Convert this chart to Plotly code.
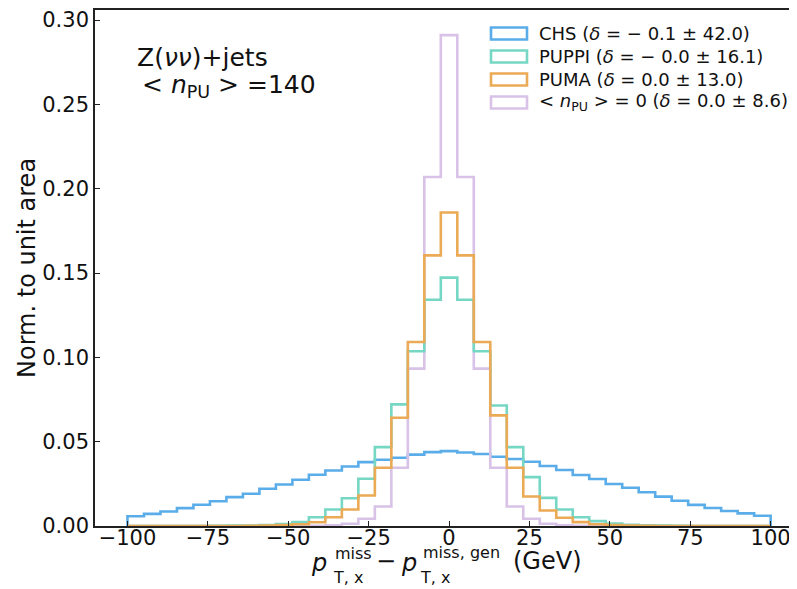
import numpy as np
import plotly.graph_objects as go

# ---------------- data ----------------
x_min, x_max, n_edges = -100, 100, 40   # 39 bins

chs = [0.0058, 0.0072, 0.0086, 0.0106, 0.0126, 0.0147, 0.0171, 0.0191, 0.0221, 0.0246,
       0.0274, 0.0304, 0.0329, 0.0353, 0.0379, 0.0393, 0.0405, 0.0423, 0.0438, 0.0444,
       0.0436, 0.0427, 0.0411, 0.0397, 0.0381, 0.0356, 0.0332, 0.0302, 0.0279, 0.0249,
       0.0227, 0.0200, 0.0174, 0.0150, 0.0125, 0.0107, 0.0089, 0.0075, 0.0061]

puppi = [0.0, 0.0, 0.0, 0.0, 0.0, 0.0001, 0.0002, 0.0003, 0.0006, 0.0012,
         0.0023, 0.0052, 0.0098, 0.0165, 0.0280, 0.0468, 0.0721, 0.1036, 0.1342, 0.1473,
         0.1342, 0.1036, 0.0715, 0.0468, 0.0290, 0.0167, 0.0098, 0.0052, 0.0029, 0.0014,
         0.0007, 0.0004, 0.0002, 0.0001, 0.0, 0.0, 0.0, 0.0, 0.0]

puma = [0.0, 0.0, 0.0, 0.0, 0.0, 0.0, 0.0, 0.0001, 0.0002, 0.0005,
        0.0010, 0.0022, 0.0052, 0.0098, 0.0181, 0.0345, 0.0642, 0.1091, 0.1605, 0.1859,
        0.1605, 0.1091, 0.0656, 0.0345, 0.0175, 0.0092, 0.0049, 0.0023, 0.0010, 0.0005,
        0.0002, 0.0001, 0.0, 0.0, 0.0, 0.0, 0.0, 0.0, 0.0]

npu0 = [0.0, 0.0, 0.0, 0.0, 0.0, 0.0, 0.0, 0.0, 0.0, 0.0,
        0.0, 0.0001, 0.0004, 0.0013, 0.0043, 0.0116, 0.0345, 0.0933, 0.2070, 0.2911,
        0.2070, 0.0933, 0.0345, 0.0116, 0.0043, 0.0013, 0.0004, 0.0001, 0.0, 0.0,
        0.0, 0.0, 0.0, 0.0, 0.0, 0.0, 0.0, 0.0, 0.0]

series_names = ["CHS", "PUPPI", "PUMA", "nPU0"]
legend_labels = [
    "CHS (<i>δ</i> = − 0.1 ± 42.0)",
    "PUPPI (<i>δ</i> = − 0.0 ± 16.1)",
    "PUMA (<i>δ</i> = 0.0 ± 13.0)",
    "< <i>n</i><sub>PU</sub> > = 0 (<i>δ</i> = 0.0 ± 8.6)",
]
x_ticks = [-100, -75, -50, -25, 0, 25, 50, 75, 100]
y_ticks = [0.0, 0.05, 0.10, 0.15, 0.20, 0.25, 0.30]

# ---------------- style ----------------
colors = {"CHS": "#5AADE8", "PUPPI": "#76D7C4", "PUMA": "#EBAA55", "nPU0": "#D9C2E8"}
values = {"CHS": chs, "PUPPI": puppi, "PUMA": puma, "nPU0": npu0}
draw_order = ["CHS", "nPU0", "PUPPI", "PUMA"]
FONT = "DejaVu Sans"
# page body adds an 8px offset; figure is sized so screen plot area is x 95..797, y 10..526
W, H = 789, 581
L, R, T, B = 87, 0, 2, 63
PW, PH = W - L - R, H - T - B
SCREEN_L, SCREEN_B = 95, 526

edges = np.linspace(x_min, x_max, n_edges)


def step_xy(vals):
    xs = [edges[0]] + list(edges) + [edges[-1]]
    ys = [0.0] + list(vals) + [vals[-1], 0.0]
    return xs, ys


def px(xs):
    return (xs - SCREEN_L) / PW


def py(ys):
    return (SCREEN_B - ys) / PH


fig = go.Figure()
for name in draw_order:
    xs, ys = step_xy(values[name])
    fig.add_trace(go.Scatter(x=xs, y=ys, mode="lines", line=dict(color=colors[name], width=2.6, shape="hv"),
                             showlegend=False, hoverinfo="skip"))

annotations = []
shapes = []
# legend
row_centers = [33.5, 56.5, 79.5, 102.5]
for name, lab, yc in zip(series_names, legend_labels, row_centers):
    shapes.append(dict(type="rect", xref="paper", yref="paper",
                       x0=px(491), x1=px(527), y0=py(yc + 6), y1=py(yc - 6),
                       line=dict(color=colors[name], width=2.6), fillcolor="rgba(0,0,0,0)"))
    annotations.append(dict(text=lab, xref="paper", yref="paper", x=px(537), y=py(yc),
                            xanchor="left", yanchor="middle", showarrow=False,
                            font=dict(family=FONT, size=18, color="#111")))

# top-left text
annotations.append(dict(text="Z(<i>νν</i>)+jets", xref="paper", yref="paper", x=px(135), y=py(57),
                        xanchor="left", yanchor="middle", showarrow=False,
                        font=dict(family=FONT, size=25, color="#111")))
annotations.append(dict(text="< <i>n</i><sub>PU</sub> > =140", xref="paper", yref="paper", x=px(140), y=py(86),
                        xanchor="left", yanchor="middle", showarrow=False,
                        font=dict(family=FONT, size=25, color="#111")))

# y title
annotations.append(dict(text="Norm. to unit area", xref="paper", yref="paper", x=px(27), y=0.5,
                        xanchor="center", yanchor="middle", textangle=-90, showarrow=False,
                        font=dict(family=FONT, size=24, color="#111")))

# x title pieces (text, left px, center py, size)
xt = [
    ("<i>p</i>", 309, 563, 24),
    ("miss", 333, 553, 16),
    ("T, x", 331, 577, 16),
    ("−", 374, 561, 24),
    ("<i>p</i>", 399, 563, 24),
    ("miss, gen", 421, 552, 16),
    ("T, x", 418, 577, 16),
    ("(GeV)", 511, 561, 24),
]
for txt, xl, yc, sz in xt:
    annotations.append(dict(text=txt, xref="paper", yref="paper", x=px(xl), y=py(yc),
                            xanchor="left", yanchor="middle", showarrow=False,
                            font=dict(family=FONT, size=sz, color="#111")))

axis_common = dict(showgrid=False, zeroline=False, ticks="inside", ticklen=5, tickwidth=1.2,
                   tickcolor="#222", showline=True, linecolor="#222", linewidth=1.6,
                   tickfont=dict(family=FONT, size=21, color="#111"))

fig.update_layout(
    width=W, height=H, margin=dict(l=L, r=R, t=T, b=B),
    plot_bgcolor="white", paper_bgcolor="white",
    xaxis=dict(range=[-110.1, 108.2], tickvals=x_ticks, mirror=True, ticklabelstandoff=-8, **axis_common),
    yaxis=dict(range=[0, 0.306], tickvals=y_ticks, tickformat=".2f", **axis_common),
    annotations=annotations, shapes=shapes, showlegend=False,
)

fig.write_html("out.html")
